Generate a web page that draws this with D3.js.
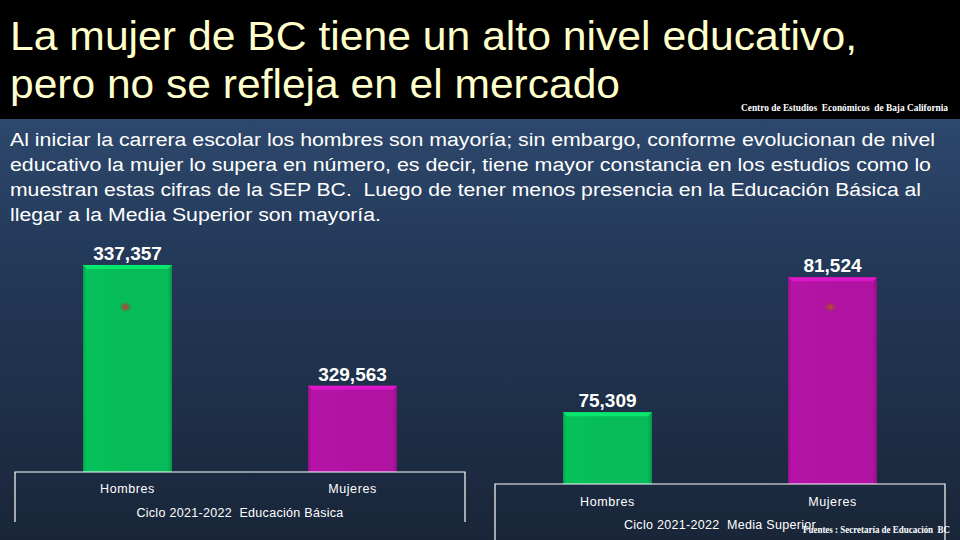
<!DOCTYPE html>
<html><head><meta charset="utf-8">
<script src="https://cdn.jsdelivr.net/npm/d3@7"></script>
<style>
html,body{margin:0;padding:0;background:#000;}
svg{display:block;}
text{white-space:pre;}
</style></head>
<body>
<svg id="chart" width="960" height="540"></svg>
<script>
// ---- data ----
const categories = ["Hombres", "Mujeres"];
const basicaValues = [337357, 329563];
const mediaValues = [75309, 81524];
const basicaDomain = [324000, 338000];
const mediaDomain = [72000, 82000];
const panelTitles = ["Ciclo 2021-2022  Educación Básica", "Ciclo 2021-2022  Media Superior"];
const titleLines = ["La mujer de BC tiene un alto nivel educativo,", "pero no se refleja en el mercado"];
const introLines = [
  "Al iniciar la carrera escolar los hombres son mayoría; sin embargo, conforme evolucionan de nivel",
  "educativo la mujer lo supera en número, es decir, tiene mayor constancia en los estudios como lo",
  "muestran estas cifras de la SEP BC.  Luego de tener menos presencia en la Educación Básica al",
  "llegar a la Media Superior son mayoría."
];
const creditText = "Centro de Estudios  Económicos  de Baja California";
const sourceText = "Fuentes : Secretaría de Educación  BC";
const barColors = ["#06bb58", "#b013a1"];

const svg = d3.select("#chart");
const defs = svg.append("defs");

// background
const bg = defs.append("linearGradient").attr("id", "bg").attr("x1", 0).attr("y1", 0).attr("x2", 0).attr("y2", 1);
bg.append("stop").attr("offset", 0).attr("stop-color", "#36567f");
bg.append("stop").attr("offset", 0.45).attr("stop-color", "#243a5a");
bg.append("stop").attr("offset", 1).attr("stop-color", "#192639");
svg.append("rect").attr("x", 0).attr("y", 0).attr("width", 960).attr("height", 540).attr("fill", "url(#bg)");
svg.append("rect").attr("x", 0).attr("y", 0).attr("width", 960).attr("height", 119).attr("fill", "#000");

// bar gradients (slight bevel shading)
barColors.forEach((c, i) => {
  const g = defs.append("linearGradient").attr("id", "bar" + i).attr("x1", 0).attr("y1", 0).attr("x2", 1).attr("y2", 0);
  const col = d3.color(c);
  g.append("stop").attr("offset", 0).attr("stop-color", col.darker(0.35));
  g.append("stop").attr("offset", 0.04).attr("stop-color", col.brighter(0.1));
  g.append("stop").attr("offset", 0.5).attr("stop-color", c);
  g.append("stop").attr("offset", 0.95).attr("stop-color", c);
  g.append("stop").attr("offset", 1).attr("stop-color", col.darker(0.5));
});
const dotGrad = defs.append("radialGradient").attr("id", "dot");
dotGrad.append("stop").attr("offset", 0).attr("stop-color", "#e0402a");
dotGrad.append("stop").attr("offset", 0.45).attr("stop-color", "#a04a30").attr("stop-opacity", 0.7);
dotGrad.append("stop").attr("offset", 1).attr("stop-color", "#a04a30").attr("stop-opacity", 0);

// title
svg.selectAll("text.title").data(titleLines).join("text")
  .attr("class", "title")
  .attr("x", 10).attr("y", (d, i) => [50, 98][i])
  .attr("textLength", (d, i) => [847, 610][i]).attr("lengthAdjust", "spacingAndGlyphs")
  .attr("font-family", "Liberation Sans, Arial, sans-serif").attr("font-size", 41)
  .attr("fill", "#ffffcc").text(d => d);

svg.append("text").attr("x", 741).attr("y", 111)
  .attr("textLength", 207).attr("lengthAdjust", "spacingAndGlyphs")
  .attr("font-family", "Liberation Serif, serif").attr("font-weight", "bold").attr("font-size", 10)
  .attr("fill", "#fff").text(creditText);

// intro paragraph
svg.selectAll("text.intro").data(introLines).join("text")
  .attr("class", "intro")
  .attr("x", 10).attr("y", (d, i) => 146 + i * 25)
  .attr("textLength", (d, i) => [925, 921, 911, 371][i]).attr("lengthAdjust", "spacingAndGlyphs")
  .attr("font-family", "Liberation Sans, Arial, sans-serif").attr("font-size", 18)
  .attr("fill", "#fff").text(d => d);

// panels
const panels = [
  {values: basicaValues, domain: basicaDomain, x0: 15, x1: 465, yTop: 255, yBase: 472, boxBottom: 522, catDy: 21, titleDy: 45, titleX: 240, dotY: 307, dotIdx: 0},
  {values: mediaValues, domain: mediaDomain, x0: 495, x1: 945, yTop: 267, yBase: 484, boxBottom: 540, catDy: 22, titleDy: 45, titleX: 720, dotY: 307, dotIdx: 1}
];

panels.forEach((p, pi) => {
  const x = d3.scaleBand().domain(categories).range([p.x0, p.x1]).paddingInner(0.605).paddingOuter(0.3025);
  const y = d3.scaleLinear().domain(p.domain).range([p.yBase, p.yTop]);
  const g = svg.append("g");
  const data = categories.map((c, i) => ({cat: c, v: p.values[i], i}));

  g.selectAll("rect.bar").data(data).join("rect")
    .attr("x", d => x(d.cat)).attr("y", d => y(d.v))
    .attr("width", x.bandwidth()).attr("height", d => y(p.domain[0]) - y(d.v))
    .attr("fill", d => "url(#bar" + d.i + ")");
  // top bevel
  g.selectAll("path.bevel").data(data).join("path")
    .attr("d", d => {
      const l = x(d.cat), r = l + x.bandwidth(), t = y(d.v), b = 4;
      return `M${l},${t}L${r},${t}L${r - b},${t + b}L${l + b},${t + b}Z`;
    })
    .attr("fill", d => d3.color(barColors[d.i]).brighter(0.6));
  // small glossy artifact
  g.append("ellipse")
    .attr("cx", x(categories[p.dotIdx]) + x.bandwidth() / 2 - 2).attr("cy", p.dotY)
    .attr("rx", 6).attr("ry", 5).attr("fill", "url(#dot)");

  // value labels
  g.selectAll("text.val").data(data).join("text")
    .attr("x", d => x(d.cat) + x.bandwidth() / 2).attr("y", d => y(d.v) - 5)
    .attr("text-anchor", "middle")
    .attr("font-family", "Liberation Sans, Arial, sans-serif").attr("font-weight", "bold").attr("font-size", 19)
    .attr("fill", "#fff").text(d => d3.format(",")(d.v));

  // category axis
  const ax = d3.axisBottom(x).tickSize(0).tickPadding(0);
  const axg = g.append("g").attr("transform", `translate(0,${p.yBase})`).call(ax);
  axg.select(".domain").remove();
  axg.selectAll("text")
    .attr("y", p.catDy).attr("dy", 0)
    .attr("font-family", "Liberation Sans, Arial, sans-serif").attr("font-size", 12.5)
    .attr("letter-spacing", 0.6).attr("fill", "#fff");

  // box lines
  g.append("path")
    .attr("d", `M${p.x0},${p.boxBottom}L${p.x0},${p.yBase}L${p.x1},${p.yBase}L${p.x1},${p.boxBottom}`)
    .attr("fill", "none").attr("stroke", "#fff").attr("stroke-width", 1.2);

  g.append("text")
    .attr("x", p.titleX).attr("y", p.yBase + p.titleDy)
    .attr("text-anchor", "middle")
    .attr("font-family", "Liberation Sans, Arial, sans-serif").attr("font-size", 12.5)
    .attr("letter-spacing", 0.3).attr("fill", "#fff").text(panelTitles[pi]);
});

svg.append("text").attr("x", 803).attr("y", 533)
  .attr("textLength", 147).attr("lengthAdjust", "spacingAndGlyphs")
  .attr("font-family", "Liberation Serif, serif").attr("font-weight", "bold").attr("font-size", 10)
  .attr("fill", "#fff").text(sourceText);
</script>
</body></html>
